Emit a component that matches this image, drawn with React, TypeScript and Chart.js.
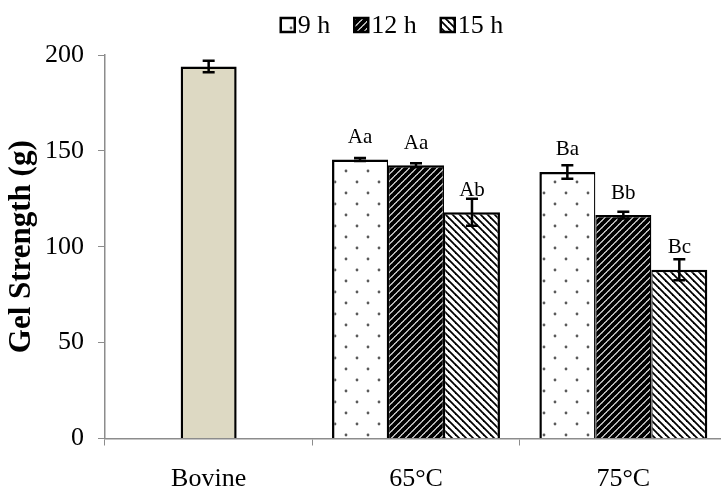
import React, { useEffect, useRef } from "react";
import { Chart, registerables } from "chart.js";

Chart.register(...registerables);

// Categories and series
const categories = ["Bovine", "65°C", "75°C"];
const seriesNames = ["9 h", "12 h", "15 h"];

// Gel strength means (g) and standard deviations
const bovineValues = [194, null, null];
const bovineErrors = [3, null, null];
const h9Values = [null, 145.5, 139];
const h9Errors = [null, 0.8, 3.5];
const h12Values = [null, 142.5, 116.5];
const h12Errors = [null, 1, 1.8];
const h15Values = [null, 118, 88];
const h15Errors = [null, 7, 5.5];

// Significance letters
const bovineLetters = ["", "", ""];
const h9Letters = ["", "Aa", "Ba"];
const h12Letters = ["", "Aa", "Bb"];
const h15Letters = ["", "Ab", "Bc"];

const yTicks = [0, 50, 100, 150, 200];

const SERIF = "'Liberation Serif', 'Times New Roman', serif";

function makePattern(w: number, h: number, draw: (c: CanvasRenderingContext2D) => void) {
  const tile = document.createElement("canvas");
  tile.width = w;
  tile.height = h;
  const c = tile.getContext("2d")!;
  c.fillStyle = "#ffffff";
  c.fillRect(0, 0, w, h);
  draw(c);
  const host = document.createElement("canvas").getContext("2d")!;
  return host.createPattern(tile, "repeat")!;
}

function dotPattern() {
  return makePattern(22, 22, (c) => {
    c.fillStyle = "#5a5a5a";
    for (const [x, y] of [[5, 6], [16, 17]]) {
      c.beginPath();
      c.arc(x, y, 1.4, 0, Math.PI * 2);
      c.fill();
    }
  });
}

function stripePattern(size: number, width: number, forward: boolean) {
  return makePattern(size, size, (c) => {
    c.strokeStyle = "#000000";
    c.lineWidth = width;
    for (const k of [-size, 0, size]) {
      c.beginPath();
      if (forward) {
        c.moveTo(k - 1, size + 1);
        c.lineTo(k + size + 1, -1);
      } else {
        c.moveTo(k - 1, -1);
        c.lineTo(k + size + 1, size + 1);
      }
      c.stroke();
    }
  });
}

const errorSets = [bovineErrors, h9Errors, h12Errors, h15Errors];
const letterSets = [bovineLetters, h9Letters, h12Letters, h15Letters];

const errorBarPlugin = {
  id: "errorBarsAndLetters",
  afterDatasetsDraw(chart: any) {
    const ctx = chart.ctx as CanvasRenderingContext2D;
    const yScale = chart.scales.y;
    chart.data.datasets.forEach((ds: any, di: number) => {
      const meta = chart.getDatasetMeta(di);
      meta.data.forEach((bar: any, i: number) => {
        const v = ds.data[i];
        if (v == null) return;
        const e = errorSets[di][i] ?? 0;
        const x = bar.x;
        const yTop = yScale.getPixelForValue(v + e);
        const yBot = yScale.getPixelForValue(v - e);
        ctx.save();
        ctx.strokeStyle = "#000";
        ctx.lineWidth = 2.5;
        ctx.beginPath();
        ctx.moveTo(x, yTop);
        ctx.lineTo(x, yBot);
        ctx.moveTo(x - 6, yTop);
        ctx.lineTo(x + 6, yTop);
        ctx.moveTo(x - 6, yBot);
        ctx.lineTo(x + 6, yBot);
        ctx.stroke();
        const letter = letterSets[di][i];
        if (letter) {
          ctx.fillStyle = "#000";
          ctx.font = `21px ${SERIF}`;
          ctx.textAlign = "center";
          ctx.textBaseline = "alphabetic";
          ctx.fillText(letter, x, bar.y - 16.5);
        }
        ctx.restore();
      });
    });
  },
};

// Legend drawn as a centred row of hatched swatches above the plot
const legendPlugin = {
  id: "patternLegend",
  afterDraw(chart: any) {
    const ctx = chart.ctx as CanvasRenderingContext2D;
    const items = chart.data.datasets.slice(1);
    ctx.save();
    ctx.font = `26px ${SERIF}`;
    const box = 14;
    const gapText = 3;
    const gapItem = 24;
    const widths = items.map((d: any) => box + gapText + ctx.measureText(d.label).width);
    const total = widths.reduce((a: number, b: number) => a + b, 0) + gapItem * (items.length - 1);
    let x = 392 - total / 2;
    const cy = 25;
    items.forEach((d: any, i: number) => {
      ctx.fillStyle = d.backgroundColor;
      ctx.fillRect(x, cy - box / 2, box, box);
      ctx.strokeStyle = "#000";
      ctx.lineWidth = 2.5;
      ctx.strokeRect(x, cy - box / 2, box, box);
      ctx.fillStyle = "#000";
      ctx.textAlign = "left";
      ctx.textBaseline = "middle";
      ctx.fillText(d.label, x + box + gapText, cy + 1);
      x += widths[i] + gapItem;
    });
    ctx.restore();
  },
};

export default function App() {
  const canvasRef = useRef<HTMLCanvasElement | null>(null);

  useEffect(() => {
    if (!canvasRef.current) return;
    const edge = "#8c8c8c";
    const chart = new Chart(canvasRef.current, {
      type: "bar",
      data: {
        labels: categories,
        datasets: [
          {
            label: "Bovine",
            data: bovineValues,
            backgroundColor: "#ddd9c3",
            borderColor: "#000",
            borderWidth: { top: 2.5, left: 2.5, right: 2.5, bottom: 0 },
          },
          {
            label: seriesNames[0],
            data: h9Values,
            backgroundColor: dotPattern(),
            borderColor: "#000",
            borderWidth: { top: 2.5, left: 2.5, right: 1.3, bottom: 0 },
          },
          {
            label: seriesNames[1],
            data: h12Values,
            backgroundColor: stripePattern(7, 4, true),
            borderColor: "#000",
            borderWidth: { top: 2.5, left: 1.3, right: 1.3, bottom: 0 },
          },
          {
            label: seriesNames[2],
            data: h15Values,
            backgroundColor: stripePattern(7, 1.8, false),
            borderColor: "#000",
            borderWidth: { top: 2.5, left: 1.3, right: 2.5, bottom: 0 },
          },
        ] as any,
      },
      options: {
        animation: false,
        responsive: false,
        devicePixelRatio: 1,
        layout: { padding: { top: 55, left: 0, right: 0, bottom: 0 } },
        datasets: {
          bar: {
            skipNull: true,
            categoryPercentage: 0.81,
            barPercentage: 1,
            maxBarThickness: 56,
            borderSkipped: "start",
          },
        } as any,
        plugins: {
          legend: { display: false },
          tooltip: { enabled: false },
        },
        scales: {
          x: {
            grid: {
              offset: true,
              drawOnChartArea: false,
              drawTicks: true,
              tickLength: 7,
              color: edge,
            },
            border: { color: edge, width: 1.5 },
            ticks: { font: { family: SERIF, size: 26 }, color: "#000", padding: 18 },
            afterFit: (s: any) => {
              s.height = 52.5;
            },
          },
          y: {
            min: 0,
            max: 200,
            afterBuildTicks: (s: any) => {
              s.ticks = yTicks.map((v) => ({ value: v }));
            },
            grid: {
              drawOnChartArea: false,
              drawTicks: true,
              tickLength: 7,
              color: edge,
            },
            border: { color: edge, width: 1.5 },
            ticks: { font: { family: SERIF, size: 26 }, color: "#000", padding: 14 },
            title: {
              display: true,
              text: "Gel Strength (g)",
              font: { family: SERIF, size: 31, weight: "bold" },
              color: "#000",
              padding: { top: 3, bottom: 0 },
            },
            afterFit: (s: any) => {
              s.width = 105;
            },
          },
        },
      },
      plugins: [errorBarPlugin, legendPlugin],
    });
    return () => chart.destroy();
  }, []);

  return (
    <div
      style={{
        position: "fixed",
        left: 0,
        top: 0,
        width: 721,
        height: 491,
        overflow: "hidden",
        background: "#fff",
      }}
    >
      <canvas ref={canvasRef} width={727} height={491} style={{ width: 727, height: 491 }} />
    </div>
  );
}
